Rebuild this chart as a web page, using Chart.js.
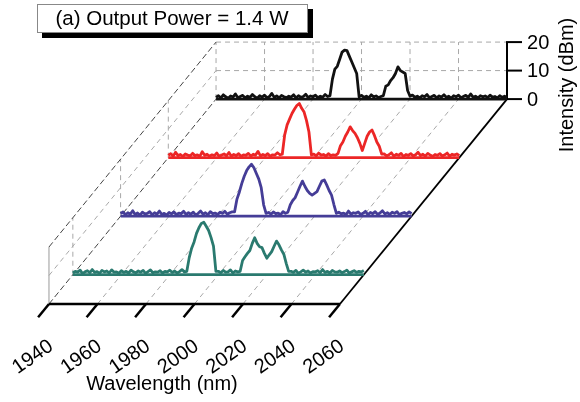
<!DOCTYPE html>
<html>
  <head>
    <title>Output Power = 1.4 W</title>
    <script src="https://cdn.jsdelivr.net/npm/chart.js"></script>
    <style>
      body { margin: 0; background: #fff; }
      #wrap { position: relative; width: 580px; height: 402px; }
    </style>
  </head>
  <body>
    <div id="wrap"><canvas id="waterfall"></canvas></div>

    <script>
      // wavelength grid of the spectra (nm)
      var wavelengthStart = 1940;
      var wavelengthStep = 1;
      var wavelengthTicks = [1940, 1960, 1980, 2000, 2020, 2040, 2060];
      var intensityTicks = [0, 10, 20];

      // depth slot of each spectrum (out of 7), back to front
      var traceDepths = [7, 5, 3, 1];
      var depthSlots = 7;

      // intensity (dBm), one value per nm from 1940 to 2060
      var blackTrace = [
        0.6, 1.2, 0.4, 1.5, 0.8, 0.3, 1.1, 0.7, 1.8, 0.5,
        0.9, 1.3, 0.4, 1.0, 0.6, 1.6, 0.8, 0.3, 1.2, 0.7,
        1.4, 0.5, 0.9, 2.0, 0.6, 1.1, 0.4, 1.3, 0.8, 0.5,
        1.0, 0.7, 1.5, 0.4, 1.2, 0.6, 0.9, 1.7, 0.5, 1.1,
        0.8, 1.4, 0.5, 1.0, 0.7, 1.6, 0.9,
        1.2, 7, 10.5, 11.5, 14, 16.5, 17.2, 17, 15, 13, 11, 9, 0.8,
        1.3, 0.6, 1.0, 0.4, 1.5, 0.8, 1.1, 0.5, 0.9,
        1.2, 4.5, 5, 6.5, 7.5, 9, 11.3, 10, 9.5, 9, 3, 1.0,
        1.4, 0.6, 1.0, 0.4, 1.2, 0.8, 1.6, 0.5, 0.9, 1.3,
        0.4, 1.1, 0.7, 1.5, 0.6, 1.0, 0.3, 1.2, 0.8, 1.4,
        0.5, 0.9, 1.3, 0.6, 1.8, 0.7, 1.0, 0.4, 1.2, 0.8,
        1.1, 0.5, 1.4, 0.7, 0.9, 0.4, 1.2, 0.6, 1.0, 0.5
      ];
      var redTrace = [
        0.8, 1.4, 0.5, 1.9, 0.7, 1.1, 0.4, 1.3, 0.9, 0.6,
        1.5, 0.7, 1.0, 0.4, 2.1, 0.8, 1.2, 0.5, 1.0, 0.7,
        1.6, 0.4, 0.9, 1.3, 0.6, 1.8, 0.5, 1.1, 0.7, 1.4,
        0.4, 1.0, 0.8, 1.5, 0.5, 1.2, 0.9, 2.2, 0.6, 1.1,
        0.7, 1.4, 0.5, 1.0, 0.9, 1.7, 1.0,
        1.2, 8, 11.5, 13.5, 15.5, 17, 18.3, 19, 17.3, 16, 13, 9, 1.0,
        1.2, 0.6, 1.6, 0.9, 1.1, 0.5, 1.4, 0.7, 1.0, 0.8,
        1.5, 4.2, 5.5, 7.5, 9, 10.8, 9.5, 8.5, 7, 5, 2.5, 5, 7.5, 9, 9.7, 7.8, 5.5, 4, 1.2,
        1.3, 0.6, 1.0, 1.7, 0.5, 1.2, 0.8, 1.5, 0.4, 1.1,
        0.8, 1.4, 0.6, 1.0, 1.9, 0.7, 1.2, 0.5, 1.5, 0.9,
        0.4, 1.1, 0.8, 1.4, 0.6, 1.0, 1.6, 0.5, 1.2, 0.9, 1.3, 0.7
      ];
      var blueTrace = [
        0.9, 1.5, 0.5, 1.2, 0.7, 1.9, 0.6, 1.1, 0.4, 1.4,
        0.8, 1.0, 1.6, 0.5, 1.2, 0.7, 1.8, 0.6, 1.0, 0.4,
        1.3, 0.8, 1.5, 0.5, 1.1, 0.9, 1.7, 0.6, 1.2, 0.7,
        1.4, 0.4, 1.0, 1.8, 0.7, 1.2, 0.5, 1.6, 0.9, 1.1,
        0.6, 1.4, 1.0, 1.7, 0.7, 1.2, 1.5,
        1.5, 6, 8.5, 11.5, 14, 16, 17.3, 18.2, 17, 15, 13, 10, 4, 1.0,
        1.3, 0.7, 1.5, 0.9, 1.1, 0.5, 1.6, 1.0,
        1.4, 4, 5.5, 6.5, 8.5, 10.5, 12.3, 10.5, 9, 8, 7.4, 8, 8.6, 10.5, 12.3, 12.7, 11, 9, 7.4, 4, 1.0,
        1.4, 0.8, 1.1, 0.5, 1.8, 0.7, 1.2, 1.0, 1.5, 0.6,
        1.0, 1.7, 0.5, 1.3, 0.9, 1.6, 0.6, 1.1, 1.9, 0.8,
        1.2, 0.6, 1.4, 1.0, 1.6, 0.5, 1.0, 1.3, 0.8, 1.5, 0.9
      ];
      var tealTrace = [
        0.6, 1.2, 0.9, 1.6, 0.4, 1.0, 1.4, 0.7, 1.8, 0.8,
        1.1, 0.5, 1.5, 1.0, 1.3, 0.6, 1.7, 0.9, 1.0, 0.5,
        1.4, 0.8, 1.2, 0.6, 1.6, 1.0, 0.7, 1.3, 0.9, 1.5,
        0.5, 1.1, 1.7, 0.7, 1.0, 0.9, 1.4, 0.6, 1.2, 1.0,
        1.6, 0.8, 1.3, 0.6, 1.1, 1.8, 1.0,
        1.2, 6, 9.3, 11.5, 14.5, 16.5, 18, 18.4, 17, 15.5, 13, 10, 1.2,
        1.2, 0.7, 1.5, 0.9, 1.0, 1.7, 0.6, 1.3, 1.0,
        1.2, 5, 6.3, 7.5, 8.5, 11, 13, 11, 9.8, 9.5, 7.5, 5.8, 7, 8.1, 10, 11.8, 10.5, 8.7, 7.2, 4, 1.2,
        1.2, 0.8, 1.5, 0.5, 1.0, 1.6, 0.9, 1.3, 0.6, 1.1,
        1.0, 1.4, 0.7, 1.8, 0.8, 1.2, 0.6, 1.5, 1.0, 0.9,
        1.3, 0.7, 1.1, 1.6, 0.6, 1.0, 1.4, 0.8, 1.2, 1.0, 1.5
      ];
      var traces = [blackTrace, redTrace, blueTrace, tealTrace];
      var traceColors = ["#111111", "#ec2626", "#453d97", "#2a7a6f"];

      // oblique projection: a full step in depth moves the plot by this much
      var DEPTH_DX = 68.9; // nm
      var DEPTH_DY = 71.9; // dBm
      var FONT = "'Liberation Sans', Arial, sans-serif";

      function depthOf(i) {
        return traceDepths[i] / depthSlots;
      }

      var datasets = [];
      traces.forEach(function (values, i) {
        var d = depthOf(i);
        var pts = values.map(function (v, k) {
          return { x: wavelengthStart + k * wavelengthStep + d * DEPTH_DX, y: v + d * DEPTH_DY };
        });
        var last = wavelengthStart + (values.length - 1) * wavelengthStep;
        datasets.push({
          data: pts,
          borderColor: traceColors[i],
          backgroundColor: "#ffffff",
          borderWidth: 2.8,
          borderJoinStyle: "round",
          pointRadius: 0,
          tension: 0,
          fill: { value: d * DEPTH_DY },
          order: 10 * (i + 1) + 1,
        });
        // baseline under each spectrum
        datasets.push({
          data: [
            { x: wavelengthStart + d * DEPTH_DX, y: d * DEPTH_DY },
            { x: last + d * DEPTH_DX, y: d * DEPTH_DY },
          ],
          borderColor: traceColors[i],
          borderWidth: 2.8,
          pointRadius: 0,
          fill: false,
          order: 10 * (i + 1),
        });
      });

      function proj(chart, wl, val, d) {
        var xs = chart.scales.x, ys = chart.scales.y;
        return {
          x: xs.getPixelForValue(wl + d * DEPTH_DX),
          y: ys.getPixelForValue(val + d * DEPTH_DY),
        };
      }

      function seg(ctx, a, b, color, width, dash) {
        ctx.save();
        ctx.strokeStyle = color;
        ctx.lineWidth = width;
        ctx.setLineDash(dash || []);
        ctx.beginPath();
        ctx.moveTo(a.x, a.y);
        ctx.lineTo(b.x, b.y);
        ctx.stroke();
        ctx.restore();
      }

      var boxPlugin = {
        id: "box3d",
        beforeDatasetsDraw: function (chart) {
          var ctx = chart.ctx;
          var wMin = wavelengthTicks[0], wMax = wavelengthTicks[wavelengthTicks.length - 1];
          var iMax = intensityTicks[intensityTicks.length - 1];
          var grid = "#a8a8a8", gdash = [5, 4];
          var edge = "#444444", edash = [6, 3];

          // floor grid
          wavelengthTicks.slice(1, -1).forEach(function (w) {
            seg(ctx, proj(chart, w, 0, 0), proj(chart, w, 0, 1), grid, 1, gdash);
          });
          // back wall grid
          wavelengthTicks.slice(0, -1).forEach(function (w) {
            seg(ctx, proj(chart, w, 0, 1), proj(chart, w, iMax, 1), grid, 1, gdash);
          });
          intensityTicks.slice(1).forEach(function (v) {
            seg(ctx, proj(chart, wMin, v, 1), proj(chart, wMax, v, 1), grid, 1, gdash);
          });
          // left wall
          traceDepths.slice(1).forEach(function (s) {
            var d = s / depthSlots;
            seg(ctx, proj(chart, wMin, 0, d), proj(chart, wMin, iMax, d), grid, 1, gdash);
          });
          seg(ctx, proj(chart, wMin, 10, 0), proj(chart, wMin, 10, 1), grid, 1, gdash);
          seg(ctx, proj(chart, wMin, iMax, 0), proj(chart, wMin, iMax, 1), edge, 1, edash);
          seg(ctx, proj(chart, wMin, 0, 0), proj(chart, wMin, 0, 1), edge, 1, edash);
          seg(ctx, proj(chart, wMin, 0, 0), proj(chart, wMin, iMax, 0), "#999999", 1);

          // solid edges
          seg(ctx, proj(chart, wMax, 0, 0), proj(chart, wMax, 0, 1), "#000", 1.8);
          seg(ctx, proj(chart, wMin, 0, 0), proj(chart, wMax, 0, 0), "#000", 2.5);
          wavelengthTicks.forEach(function (w) {
            seg(ctx, proj(chart, w, 0, 0), proj(chart, w, 0, -0.065), "#000", 2.5);
          });
          // intensity axis on the back right edge
          seg(ctx, proj(chart, wMax, 0, 1), proj(chart, wMax, iMax, 1), "#000", 2);
          intensityTicks.forEach(function (v) {
            var p = proj(chart, wMax, v, 1);
            seg(ctx, { x: p.x - 1, y: p.y }, { x: p.x + 15, y: p.y }, "#000", 2);
          });
        },
        afterDraw: function (chart) {
          var ctx = chart.ctx;
          ctx.save();
          ctx.fillStyle = "#000";
          ctx.font = "20px " + FONT;

          // wavelength tick labels, rotated
          wavelengthTicks.forEach(function (w) {
            var p = proj(chart, w, 0, -0.065);
            ctx.save();
            ctx.translate(p.x + 13, p.y + 27);
            ctx.rotate((-35 * Math.PI) / 180);
            ctx.textAlign = "right";
            ctx.textBaseline = "middle";
            ctx.fillText(String(w), 0, 0);
            ctx.restore();
          });
          ctx.textAlign = "center";
          ctx.textBaseline = "middle";
          ctx.fillText("Wavelength (nm)", 162, 384);

          // intensity tick labels
          ctx.textAlign = "left";
          intensityTicks.forEach(function (v) {
            var p = proj(chart, wavelengthTicks[wavelengthTicks.length - 1], v, 1);
            ctx.fillText(String(v), p.x + 20, p.y + 1);
          });
          ctx.save();
          ctx.translate(567, 85);
          ctx.rotate(-Math.PI / 2);
          ctx.textAlign = "center";
          ctx.fillText("Intensity (dBm)", 0, 0);
          ctx.restore();

          // title box with drop shadow
          ctx.fillStyle = "#000";
          ctx.fillRect(42, 9, 271, 29);
          ctx.fillStyle = "#fff";
          ctx.fillRect(37, 4, 271, 29);
          ctx.strokeStyle = "#888";
          ctx.lineWidth = 1;
          ctx.strokeRect(37.5, 4.5, 270, 28);
          ctx.fillStyle = "#000";
          ctx.font = "20.5px " + FONT;
          ctx.textAlign = "center";
          ctx.fillText("(a) Output Power = 1.4 W", 172, 19);
          ctx.restore();
        },
      };

      new Chart(document.getElementById("waterfall"), {
        type: "line",
        data: { datasets: datasets },
        options: {
          responsive: true,
          maintainAspectRatio: false,
          animation: false,
          layout: { padding: 0 },
          scales: {
            x: { type: "linear", display: false, min: 1919.8, max: 2159 },
            y: { type: "linear", display: false, min: -34.39, max: 106.67 },
          },
          plugins: {
            legend: { display: false },
            tooltip: { enabled: false },
          },
        },
        plugins: [boxPlugin],
      });
    </script>
  </body>
</html>
